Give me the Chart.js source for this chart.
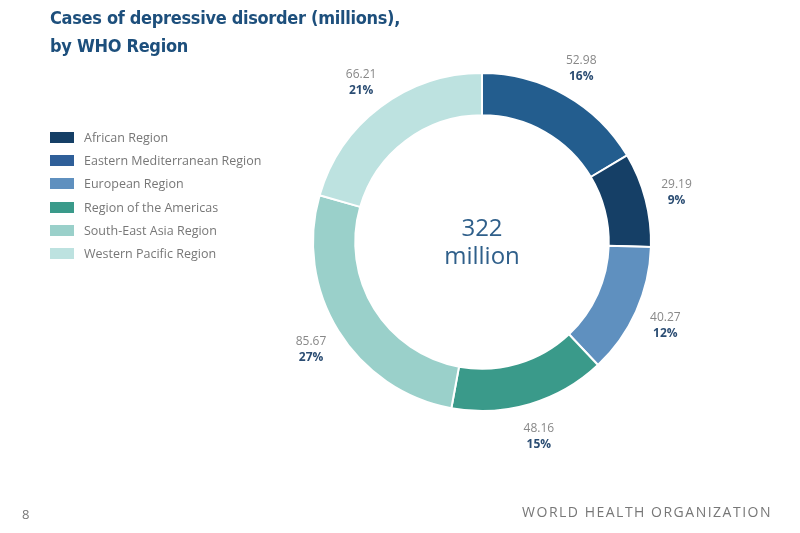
<!DOCTYPE html>
<html><head><meta charset="utf-8">
<script src="https://cdn.jsdelivr.net/npm/chart.js@4"></script>
<style>
html,body{margin:0;padding:0;background:#fff;width:800px;height:533px;overflow:hidden;font-family:"Open Sans",sans-serif}
#wrap{position:absolute;left:0;top:0;width:800px;height:533px}
#title{position:absolute;left:50px;top:4px;font-family:"DejaVu Sans Condensed","DejaVu Sans";font-weight:bold;font-size:18px;line-height:28px;color:#1d4f7c;letter-spacing:-0.3px}
#page{position:absolute;left:22px;top:505px;font-size:13px;color:#777}
#org{position:absolute;right:28px;top:502px;font-size:14px;color:#777;letter-spacing:1.5px}
#legend{position:absolute;left:50px;top:126px}
.li{display:flex;align-items:center;height:23.2px;font-size:12.5px;color:#777}
.sw{width:24px;height:11px;margin-right:10px}
</style></head><body>
<div id="wrap"><canvas id="c" width="800" height="533"></canvas></div>
<div id="title">Cases of depressive disorder (millions),<br>by WHO Region</div>
<div id="legend"></div>
<div id="page">8</div>
<div id="org">WORLD HEALTH ORGANIZATION</div>
<script>
const legendNames = ["African Region","Eastern Mediterranean Region","European Region","Region of the Americas","South-East Asia Region","Western Pacific Region"];
const legendColors = ["#153f66","#2f5f99","#5f90bf","#3a9a8a","#9ad0ca","#bde2e0"];
// donut order clockwise from top
const regions = ["Eastern Mediterranean Region","African Region","European Region","Region of the Americas","South-East Asia Region","Western Pacific Region"];
const cases = [52.98,29.19,40.27,48.16,85.67,66.21];
const percents = ["16%","9%","12%","15%","27%","21%"];
const sliceColors = ["#235d8e","#153f66","#5f90bf","#3a9a8a","#9ad0ca","#bde2e0"];
const centerLines = ["322","million"];

const lg=document.getElementById('legend');
legendNames.forEach((n,i)=>{lg.innerHTML+=`<div class="li"><div class="sw" style="background:${legendColors[i]}"></div>${n}</div>`;});

const labelPlugin={id:'lbl',afterDatasetsDraw(chart){
  const ctx=chart.ctx;const meta=chart.getDatasetMeta(0);
  ctx.save();
  meta.data.forEach((arc,i)=>{
    const a=(arc.startAngle+arc.endAngle)/2;
    const r=arc.outerRadius+32;
    const x=arc.x+Math.cos(a)*r, y=arc.y+Math.sin(a)*r;
    ctx.textAlign='center';
    ctx.font='12px "Open Sans"';ctx.fillStyle='#888';
    ctx.fillText(cases[i].toFixed(2),x,y-3);
    ctx.font='bold 12px "Open Sans"';ctx.fillStyle='#2b4d73';
    ctx.fillText(percents[i],x,y+13);
  });
  const a0=meta.data[0];
  ctx.textAlign='center';ctx.fillStyle='#2f5f8a';ctx.font='24px "Open Sans"';
  ctx.fillText(centerLines[0],a0.x,a0.y-6);
  ctx.fillText(centerLines[1],a0.x,a0.y+22);
  ctx.restore();
}};

new Chart(document.getElementById('c'),{
  type:'doughnut',
  data:{labels:regions,datasets:[{data:cases,backgroundColor:sliceColors,borderColor:'#fff',borderWidth:2}]},
  options:{responsive:false,animation:false,cutout:'75%',
    layout:{padding:{left:312,right:148,top:72,bottom:121}},
    plugins:{legend:{display:false},tooltip:{enabled:false}}},
  plugins:[labelPlugin]
});
</script>
</body></html>
